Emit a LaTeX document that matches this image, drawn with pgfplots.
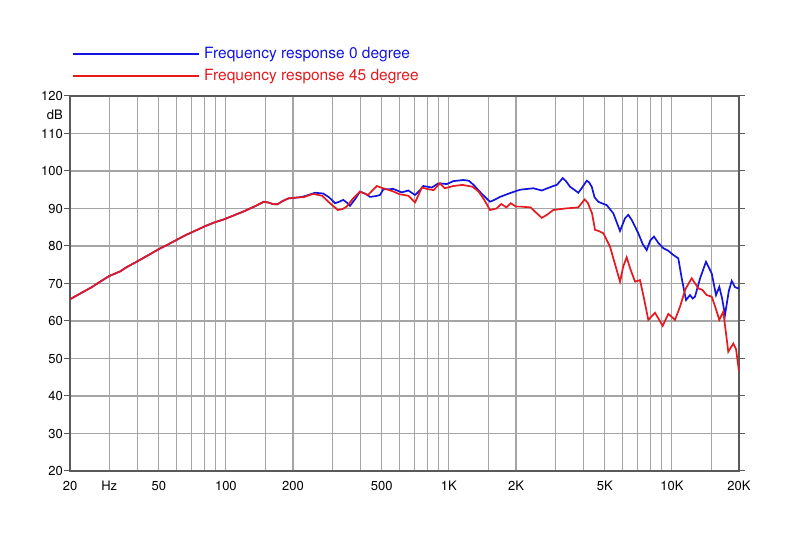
\documentclass[border=0pt]{standalone}
\usepackage{fontspec}
\setmainfont{TeX Gyre Heros}
\usepackage{pgfplots}
\pgfplotsset{compat=1.18}
\definecolor{cblue}{RGB}{20,20,225}
\definecolor{cred}{RGB}{230,25,30}
\definecolor{cgrid}{RGB}{165,165,165}
\definecolor{cframe}{RGB}{90,90,90}
\begin{document}
\begin{tikzpicture}
\path[use as bounding box] (0,0) rectangle (800bp,533bp);
\begin{axis}[
  at={(70bp,62bp)}, anchor=south west,
  scale only axis, width=669bp, height=375bp,
  xmode=log, xmin=20, xmax=20000, ymin=20, ymax=120,
  xtick={20,30,40,50,60,70,80,90,100,150,200,300,400,500,600,700,800,900,1000,1500,2000,3000,4000,5000,6000,7000,8000,9000,10000,15000,20000},
  xticklabels={20,Hz,,50,,,,,100,,200,,,500,,,,,1K,,2K,,,5K,,,,,10K,,20K},
  ytick={20,30,...,120},
  extra y ticks={115}, extra y tick labels={dB},
  extra y tick style={grid=none, major tick style={draw=none}},
  grid=major,
  major grid style={cgrid, line width=1.2bp},
  axis line style={cframe, line width=1.4bp},
  tick align=outside, major tick length=6bp,
  xtick style={draw=none},
  ytick style={cframe, line width=1bp},
  tick label style={font=\fontsize{13bp}{15bp}\selectfont, text=black},
  yticklabel style={inner xsep=1bp},
  xticklabel style={yshift=-1bp},
  /pgf/number format/assume math mode=true,
  log ticks with fixed point,
  clip=true,
]
\addplot[cblue, line width=1.7bp] coordinates {
(20,65.8) (22.5,67.5) (25,69.0) (27.5,70.6) (30,72.0) (33.5,73.2) (36,74.4) (39.8,75.8)
(45,77.6) (49.8,79.1) (55,80.4) (60,81.6) (65,82.7) (70,83.6) (75,84.4) (80,85.2)
(89,86.3) (98,87.1) (110,88.3) (120,89.2) (135,90.6) (148,91.8) (155,91.6) (162,91.2)
(170,91.1) (180,92.0) (191,92.7) (215,93.0) (223,93.2) (240,93.8) (251,94.2) (273,94.0)
(290,93.0) (309,91.4) (322,91.8) (336,92.3) (350,91.5) (360,90.7) (380,92.5) (399,94.5)
(420,94.0) (443,93.1) (470,93.3) (491,93.6) (508,95.1) (564,95.2) (615,94.3) (658,94.8)
(705,93.6) (740,94.8) (768,96.0) (838,95.6) (897,96.7) (950,96.6) (978,96.5) (1047,97.3)
(1161,97.6) (1230,97.4) (1290,96.3) (1400,94.0) (1529,91.8) (1600,92.3) (1696,93.1)
(1880,94.1) (2084,95.0) (2392,95.4) (2608,94.8) (2940,96.0) (3050,96.3) (3240,98.1)
(3350,97.3) (3494,95.8) (3650,95.0) (3806,94.2) (3950,95.5) (4150,97.4) (4250,97.0)
(4372,95.8) (4500,93.0) (4678,91.8) (4850,91.4) (5102,90.9) (5464,88.7) (5854,84.0)
(6166,87.4) (6376,88.3) (6600,87.0) (7070,83.4) (7400,80.5) (7712,78.9) (8000,81.5)
(8315,82.5) (8700,80.8) (9154,79.4) (9600,78.8) (10150,77.6) (10686,76.7) (11100,71.0)
(11572,65.6) (12060,66.9) (12400,66.0) (12698,66.5) (13400,71.5) (14224,75.8)
(15088,72.7) (15772,66.9) (16318,69.1) (16800,66.0) (17306,61.6) (18000,68.0)
(18552,70.7) (19200,69.0) (19860,68.7) (20000,69.0)
};
\addplot[cred, line width=1.7bp] coordinates {
(20,65.8) (22.5,67.5) (25,69.0) (27.5,70.6) (30,72.0) (33.5,73.2) (36,74.4) (39.8,75.8)
(45,77.6) (49.8,79.1) (55,80.4) (60,81.6) (65,82.7) (70,83.6) (75,84.4) (80,85.2)
(89,86.3) (98,87.1) (110,88.3) (120,89.2) (135,90.6) (148,91.8) (155,91.6) (162,91.2)
(170,91.1) (180,92.0) (191,92.7) (215,93.0) (223,93.0) (246,93.9) (270,93.4) (293,91.4)
(318,89.6) (335,89.9) (348,90.5) (370,92.5) (399,94.5) (434,93.6) (475,96.0) (500,95.5)
(527,95.1) (560,94.6) (601,93.8) (658,93.4) (705,91.6) (757,95.6) (800,95.2) (853,94.9)
(912,96.7) (958,95.4) (1050,96.0) (1149,96.3) (1277,95.8) (1360,94.5) (1441,92.3)
(1529,89.6) (1634,90.0) (1717,91.2) (1809,90.3) (1897,91.4) (1998,90.5) (2100,90.5)
(2325,90.3) (2450,89.0) (2608,87.5) (2750,88.3) (2940,89.6) (3320,90.0) (3806,90.3)
(4060,92.4) (4200,91.5) (4385,88.7) (4522,84.3) (4700,84.0) (4928,83.4) (5281,79.8)
(5600,74.5) (5854,70.5) (6050,74.5) (6272,77.0) (6500,74.0) (6835,70.5) (7196,70.9)
(7500,66.0) (7841,60.3) (8402,62.2) (9096,58.7) (9640,61.9) (10328,60.3) (10874,63.8)
(11500,68.5) (12272,71.4) (13140,68.7) (13700,68.3) (14330,66.9) (15088,66.5)
(15700,63.5) (16318,60.3) (17006,62.5) (17906,51.8) (18856,54.0) (19400,52.5) (20000,46.5)
};
\end{axis}
\draw[cblue, line width=1.4bp] (73bp,479bp) -- (199bp,479bp);
\node[anchor=base west, inner sep=0pt, text=cblue, font=\fontsize{15.5bp}{17bp}\selectfont] at (204bp,474.5bp) {Frequency response 0 degree};
\draw[cred, line width=1.4bp] (73bp,457bp) -- (199bp,457bp);
\node[anchor=base west, inner sep=0pt, text=cred, font=\fontsize{15.5bp}{17bp}\selectfont] at (204bp,452bp) {Frequency response 45 degree};
\end{tikzpicture}
\end{document}
